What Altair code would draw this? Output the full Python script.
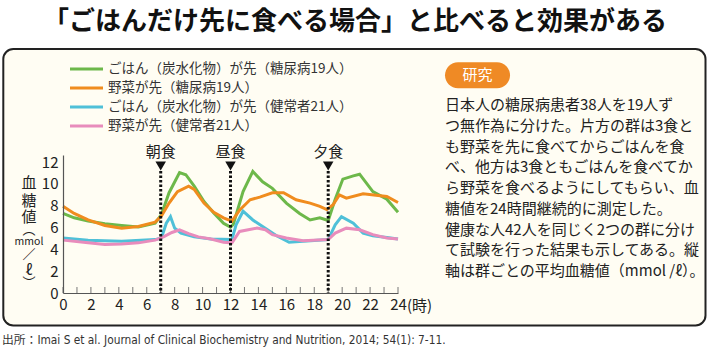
import altair as alt
import pandas as pd

# ---------------- data ----------------
series_names = [
    "ごはん（炭水化物）が先（糖尿病19人）",
    "野菜が先（糖尿病19人）",
    "ごはん（炭水化物）が先（健常者21人）",
    "野菜が先（健常者21人）",
]
series_colors = ["#6db84a", "#f08c1e", "#4fc0d8", "#e88cbc"]

green_t = [0, 0.8, 1.8, 3.0, 4.2, 5.4, 6.6, 7.05, 7.6, 8.35, 8.8, 9.4, 10.1, 10.8, 11.5, 12.0, 12.2,
           12.9, 13.6, 14.3, 15.0, 16.0, 16.95, 17.7, 18.4, 19.0, 19.5, 20.05, 20.8, 21.25, 22.2, 23.2, 24]
green_v = [7.3, 6.9, 6.6, 6.35, 6.2, 6.05, 6.4, 7.2, 9.2, 11.05, 10.85, 9.8, 8.4, 7.35, 6.4, 6.05, 6.3,
           9.3, 11.15, 10.2, 9.6, 8.25, 7.3, 6.7, 6.9, 6.65, 8.6, 10.45, 10.75, 10.9, 9.3, 8.6, 7.4]

orange_t = [0, 0.8, 1.8, 3.0, 4.2, 5.4, 6.6, 7.05, 7.6, 8.2, 9.0, 9.4, 10.1, 10.8, 11.5, 12.1, 12.65,
            13.4, 14.1, 15.0, 15.8, 16.7, 17.7, 18.4, 18.9, 19.35, 19.8, 20.3, 21.5, 23.2, 24]
orange_v = [7.95, 7.3, 6.7, 6.2, 5.95, 6.1, 6.5, 7.05, 8.25, 9.3, 9.8, 9.5, 8.25, 7.4, 6.9, 6.6, 7.6,
            8.55, 8.8, 9.2, 9.2, 8.55, 8.25, 7.95, 7.65, 8.1, 9.0, 8.7, 9.1, 8.85, 8.3]

cyan_t = [0, 1.8, 4.2, 6.6, 7.05, 7.4, 7.7, 8.0, 8.45, 9.4, 10.6, 12.1, 12.4, 12.9, 13.6, 14.3, 15.3,
          16.2, 17.2, 19.0, 19.5, 19.95, 20.8, 21.5, 22.2, 23.2, 24]
cyan_v = [5.05, 4.85, 4.75, 4.9, 5.05, 6.4, 7.0, 5.95, 5.5, 5.15, 4.95, 4.9, 6.25, 7.5, 6.7, 6.1, 5.25,
          4.65, 4.75, 4.9, 6.25, 7.0, 6.4, 5.5, 5.25, 5.1, 4.95]

pink_t = [0, 1.8, 3.0, 4.2, 5.4, 6.6, 7.2, 7.8, 8.35, 9.0, 9.7, 10.6, 11.5, 12.1, 12.65, 13.9, 14.5,
          15.0, 16.0, 17.2, 19.0, 19.5, 20.3, 21.25, 22.2, 23.2, 24]
pink_v = [4.85, 4.6, 4.45, 4.5, 4.6, 4.85, 5.15, 5.55, 5.8, 5.45, 5.15, 4.95, 4.65, 4.6, 5.65, 5.95, 5.8,
          5.35, 5.05, 4.8, 4.9, 5.5, 5.95, 5.8, 5.35, 5.05, 4.95]

meal_hours = [7, 12, 19]
meal_labels = ["朝食", "昼食", "夕食"]

x_tick_labels = list(range(0, 25, 2))
y_tick_labels = [0, 2, 4, 6, 8, 10, 12]
hour_ticks = list(range(0, 25))

title_text = "「ごはんだけ先に食べる場合」と比べると効果がある"
badge_text = "研究"
body_lines = [
    "日本人の糖尿病患者38人を19人ず",
    "つ無作為に分けた。片方の群は3食と",
    "も野菜を先に食べてからごはんを食",
    "べ、他方は3食ともごはんを食べてか",
    "ら野菜を食べるようにしてもらい、血",
    "糖値を24時間継続的に測定した。",
    "健康な人42人を同じく2つの群に分け",
    "て試験を行った結果も示してある。縦",
    "軸は群ごとの平均血糖値（mmol /ℓ）。",
]
source_text = "出所：Imai S et al. Journal of Clinical Biochemistry and Nutrition, 2014; 54(1): 7-11."
ylabel_chars = ["血", "糖", "値", "︵", "mmol", "／", "ℓ", "︶"]

# ---------------- layout ----------------
W, H = 335, 138
FONT = "Noto Sans CJK JP"
TXT = "#222222"

rows = []
for name, ts, vs in zip(series_names, [green_t, orange_t, cyan_t, pink_t],
                        [green_v, orange_v, cyan_v, pink_v]):
    for t, v in zip(ts, vs):
        rows.append({"series": name, "t": t, "v": v})
df = pd.DataFrame(rows)

xscale = alt.Scale(domain=[0, 24], nice=False)
yscale = alt.Scale(domain=[0, 12.66], nice=False)
cscale = alt.Scale(domain=series_names, range=series_colors)
one = pd.DataFrame({"a": [0]})

x_axis = alt.Axis(values=x_tick_labels, tickSize=0, labelPadding=4, domainColor="#555555",
                  domainWidth=1.2, labelFont=FONT, labelFontSize=15, labelColor=TXT,
                  grid=False, labelFlush=False, labelOverlap=False, zindex=1, title=None)
y_axis = alt.Axis(values=y_tick_labels, tickSize=0, labelPadding=5, domainColor="#555555",
                  domainWidth=1.2, labelFont=FONT, labelFontSize=15, labelColor=TXT,
                  grid=False, labelOverlap=False, zindex=1, title=None)
X = alt.X("t:Q", scale=xscale, axis=x_axis, title=None)


def label(text, x, y, size=15, color=TXT, align="left", weight="normal", font=FONT):
    return alt.Chart(one).mark_text(
        font=font, fontSize=size, color=color, align=align, baseline="middle", fontWeight=weight
    ).encode(x=alt.value(x), y=alt.value(y), text=alt.value(text))


box = alt.Chart(one).mark_rect(
    fill="#fffdf3", stroke="#222222", strokeWidth=2, cornerRadius=10
).encode(x=alt.value(-59.7), x2=alt.value(642.5), y=alt.value(-106), y2=alt.value(170.5))

title = label(title_text, 292, -133, size=26, color="#111111", align="center", weight="bold")

lines = alt.Chart(df).mark_line(strokeWidth=3).encode(
    x=X,
    y=alt.Y("v:Q", scale=yscale, axis=y_axis, title=None),
    color=alt.Color("series:N", scale=cscale, legend=None),
    order=alt.Order("t:Q"),
    detail="series:N",
)

ticks = alt.Chart(pd.DataFrame({"t": hour_ticks})).mark_rule(color="#777777", strokeWidth=1).encode(
    x=X, y=alt.value(H), y2=alt.value(H - 6)
)

meal_df = pd.DataFrame({"t": meal_hours, "label": meal_labels})
meal_rules = alt.Chart(meal_df).mark_rule(color="#111111", strokeWidth=3, strokeDash=[2.5, 2]).encode(
    x=X, y=alt.value(16), y2=alt.value(H)
)
meal_tri = alt.Chart(meal_df).mark_point(shape="triangle-down", filled=True, color="#111111",
                                          size=110, opacity=1).encode(x=X, y=alt.value(11))
meal_txt = alt.Chart(meal_df).mark_text(font=FONT, fontSize=15, color=TXT, baseline="middle").encode(
    x=X, y=alt.value(-3), text="label:N"
)

unit_txt = label("(時)", 344, 150.5)

# y-axis vertical label
ylab_y = [28, 46, 62, 75, 87, 100, 115, 128]
ylab_size = [15, 15, 15, 13, 10.5, 13, 15, 13]
ylab = [label(c, -34, py, size=fs, align="center") for c, py, fs in zip(ylabel_chars, ylab_y, ylab_size)]

# legend
leg_y = [-86, -67, -48, -29]
leg_layers = []
for name, col, py in zip(series_names, series_colors, leg_y):
    leg_layers.append(alt.Chart(one).mark_rule(strokeWidth=3, color=col).encode(
        x=alt.value(7), x2=alt.value(40), y=alt.value(py)))
    leg_layers.append(label(name, 45, py, size=13.5, color="#333333"))

# right panel
badge = alt.Chart(one).mark_rect(fill="#ef8a25", cornerRadius=13).encode(
    x=alt.value(382), x2=alt.value(447), y=alt.value(-92.7), y2=alt.value(-66.7)
)
badge_txt = label(badge_text, 414.5, -80, color="white", align="center")
body = [label(line, 382, -50 + 20.75 * i) for i, line in enumerate(body_lines)]

source = label(source_text, -61, 185, size=11.8, color="#333333", font="DejaVu Sans Condensed, " + FONT)

chart = alt.layer(
    box, lines, title, ticks, meal_rules, meal_tri, meal_txt, unit_txt, *ylab,
    *leg_layers, badge, badge_txt, *body, source
).properties(
    width=W, height=H,
    autosize=alt.AutoSizeParams(type="none"),
    padding={"left": 63, "top": 155, "right": 312, "bottom": 59},
    background="white",
).configure_view(stroke=None)

chart.save("out.html", embed_options={"renderer": "svg", "actions": False})
